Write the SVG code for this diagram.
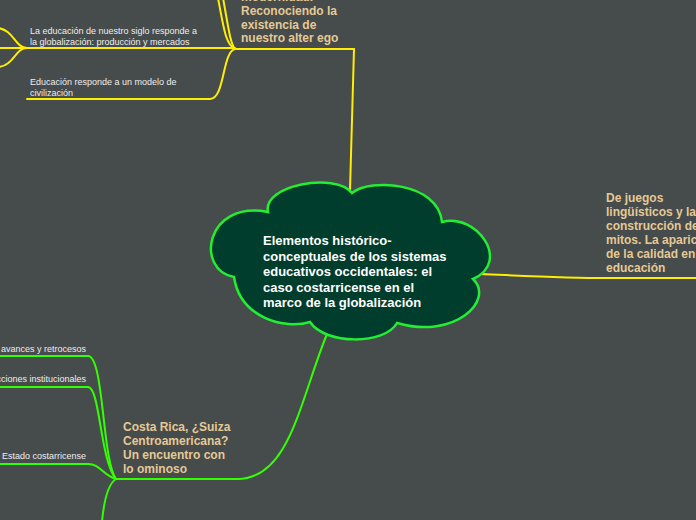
<svg xmlns="http://www.w3.org/2000/svg" width="696" height="520" viewBox="0 0 696 520">
<style>
.bg{fill:#464b4b}
.y{fill:none;stroke:#ffee00;stroke-width:2;stroke-linecap:round}
.g{fill:none;stroke:#33ff00;stroke-width:2;stroke-linecap:round}
.main{font-family:"Liberation Sans",Arial,sans-serif;font-weight:bold;font-size:13px;fill:#ffffff}
.big{font-family:"Liberation Sans",Arial,sans-serif;font-weight:bold;font-size:12px;fill:#e5c995}
.small{font-family:"Liberation Sans",Arial,sans-serif;font-size:9px;fill:#eeeeee}
.cloud{fill:#003d2c;stroke:#22ee33;stroke-width:2.5}
</style>
<rect class="bg" x="0" y="0" width="696" height="520"/>
<g id="connectors">
<path class="y" d="M354,49 L350,190"/>
<path class="y" d="M235,49 C226,45 224,30 218,-2"/>
<path class="y" d="M235,49 C230,43 228,25 223,-2"/>
<path class="y" d="M235,49 C222,52 225,99 210,99"/>
<path class="y" d="M27,48 C15,48 14,30 -2,28"/>
<path class="y" d="M27,48 C15,48 14,66 -2,67"/>
<path class="y" d="M481,274 C530,276 570,278 605,278"/>
<path class="g" d="M327,334 C300,400 290,478 238,479"/>
<path class="g" d="M88,356 C104,356 102,460 116,479"/>
<path class="g" d="M88,387 C100,387 100,460 116,479"/>
<path class="g" d="M88,464 C100,464 104,476 116,479"/>
<path class="g" d="M116,479 C108,484 104,500 102,522"/>
</g>
<g id="central">
<path class="cloud" d="M268,212 C262,185 335,172 352,193 C370,178 438,182 442,222 C476,212 512,262 473,279 C495,300 455,340 397,323 C385,345 325,345 310,322 C285,330 240,318 234,277 C195,270 205,200 268,212 Z"/>
<text class="main" x="263" y="245">Elementos histórico-</text>
<text class="main" x="263" y="260.5">conceptuales de los sistemas</text>
<text class="main" x="263" y="276">educativos occidentales: el</text>
<text class="main" x="263" y="291.5">caso costarricense en el</text>
<text class="main" x="263" y="307">marco de la globalización</text>
</g>
<g id="node-alter-ego">
<path class="y" d="M235,49 L354,49"/>
<text class="big" x="241" y="1">modernidad.</text>
<text class="big" x="241" y="15">Reconociendo la</text>
<text class="big" x="241" y="28.5">existencia de</text>
<text class="big" x="241" y="42">nuestro alter ego</text>
</g>
<g id="node-educacion-siglo">
<path class="y" d="M-2,48 L235,48"/>
<text class="small" x="30" y="33.5">La educación de nuestro siglo responde a</text>
<text class="small" x="30" y="44.5">la globalización: producción y mercados</text>
</g>
<g id="node-modelo">
<path class="y" d="M27,99 L210,99"/>
<text class="small" x="30" y="84.5">Educación responde a un modelo de</text>
<text class="small" x="30" y="95.5">civilización</text>
</g>
<g id="node-juegos">
<path class="y" d="M605,278 L698,278"/>
<text class="big" x="606" y="202">De juegos</text>
<text class="big" x="606" y="216">lingüísticos y la</text>
<text class="big" x="606" y="230">construcción de</text>
<text class="big" x="606" y="244">mitos. La aparición</text>
<text class="big" x="606" y="258">de la calidad en la</text>
<text class="big" x="606" y="272">educación</text>
</g>
<g id="node-costa-rica">
<path class="g" d="M116,479 L238,479"/>
<text class="big" x="123" y="431">Costa Rica, ¿Suiza</text>
<text class="big" x="123" y="445">Centroamericana?</text>
<text class="big" x="123" y="459">Un encuentro con</text>
<text class="big" x="123" y="473">lo ominoso</text>
</g>
<g id="node-avances">
<path class="g" d="M-2,356 L88,356"/>
<text class="small" x="86" y="351.5" text-anchor="end">avances y retrocesos</text>
</g>
<g id="node-instituciones">
<path class="g" d="M-2,387 L88,387"/>
<text class="small" x="86" y="382" text-anchor="end">cciones institucionales</text>
</g>
<g id="node-estado">
<path class="g" d="M-2,464 L88,464"/>
<text class="small" x="86" y="459" text-anchor="end">Estado costarricense</text>
</g>
</svg>
